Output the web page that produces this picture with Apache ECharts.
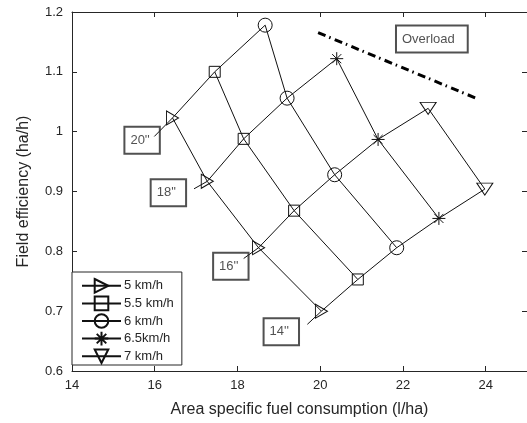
<!DOCTYPE html>
<html>
<head>
<meta charset="utf-8">
<script src="https://cdn.jsdelivr.net/npm/echarts@6/dist/echarts.min.js"></script>
<style>
html,body{margin:0;padding:0;background:#fff;}
#chart{width:527px;height:423px;}
</style>
</head>
<body>
<div id="chart"></div>
<script>
// ---- data ----
const depths = ["20''", "18''", "16''", "14''"];
const speeds = ["5 km/h", "5.5 km/h", "6 km/h", "6.5km/h", "7 km/h"];
// fuel consumption (l/ha) per speed, indexed by depth (20'',18'',16'',14'')
const fuel5  = [16.43, 17.27, 18.51, 20.03];
const fuel55 = [17.45, 18.15, 19.37, 20.91];
const fuel6  = [18.67, 19.20, 20.35, 21.85];
const fuel65 = [null, 20.40, 21.40, 22.87];
const fuel7  = [null, null, 22.61, 23.98];
// field efficiency (ha/h)
const eff5  = [1.023, 0.917, 0.806, 0.700];
const eff55 = [1.100, 0.988, 0.868, 0.753];
const eff6  = [1.178, 1.056, 0.928, 0.806];
const eff65 = [null, 1.122, 0.987, 0.855];
const eff7  = [null, null, 1.039, 0.904];
// overload boundary
const overloadFuel = [19.95, 23.80];
const overloadEff  = [1.1655, 1.055];
// annotation label anchors (data units)
const depthLabelFuel = [15.695, 16.33, 17.84, 19.06];
const depthLabelEff  = [0.9855, 0.898, 0.775, 0.6655];
const leaderFuel = [15.99, 16.95, 18.15, 19.69];
const leaderEff  = [0.992, 0.9045, 0.788, 0.678];
const overloadLabel = ['Overload'];
const overloadLabelFuel = [22.70];
const overloadLabelEff  = [1.155];
// axis ticks
const xTicks = [14, 16, 18, 20, 22, 24];
const yTicks = [0.6, 0.7, 0.8, 0.9, 1.0, 1.1, 1.2];

const fuelBySpeed = [fuel5, fuel55, fuel6, fuel65, fuel7];
const effBySpeed = [eff5, eff55, eff6, eff65, eff7];

const INK = '#262626';
const LINE = '#111';
const FONT = 'Liberation Sans, Arial, sans-serif';

const symbols = [
  'path://M0,0L10,5L0,10Z',
  'rect',
  'circle',
  'path://M5,0L5,10M0,5L10,5M1.5,1.5L8.5,8.5M1.5,8.5L8.5,1.5',
  'path://M0,0L10,0L5,8Z'
];
const symbolSizes = [[12, 14], 11, 14, 13, [16, 12]];

const series = [];
// speed lines with markers
speeds.forEach((name, s) => {
  const pts = [];
  fuelBySpeed[s].forEach((x, d) => { if (x != null) pts.push([x, effBySpeed[s][d]]); });
  series.push({
    type: 'line', name: name, data: pts,
    symbol: symbols[s], symbolSize: symbolSizes[s],
    showAllSymbol: true,
    itemStyle: { color: 'transparent', borderColor: LINE, borderWidth: 1 },
    lineStyle: { color: LINE, width: 1 },
    emphasis: { disabled: true }, silent: true, z: 4
  });
});
// depth lines (with leader to the label box)
depths.forEach((dname, d) => {
  const pts = [[leaderFuel[d], leaderEff[d]]];
  for (let s = 0; s < speeds.length; s++) {
    if (fuelBySpeed[s][d] != null) pts.push([fuelBySpeed[s][d], effBySpeed[s][d]]);
  }
  series.push({
    type: 'line', name: 'depth ' + dname, data: pts, symbol: 'none',
    lineStyle: { color: LINE, width: 1 }, emphasis: { disabled: true }, silent: true, z: 3
  });
});
// overload line
series.push({
  type: 'line', name: 'overload', symbol: 'none',
  data: overloadFuel.map((x, i) => [x, overloadEff[i]]),
  lineStyle: { color: '#000', width: 3, type: [8, 4, 1.5, 4.5] },
  emphasis: { disabled: true }, silent: true, z: 3
});
// depth label boxes
const boxLabel = {
  show: true, position: 'inside', color: INK, fontFamily: FONT, fontSize: 13,
  borderColor: INK, borderWidth: 1, backgroundColor: 'transparent',
  padding: [7, 10, 7, 6], lineHeight: 13,
  formatter: p => p.name
};
series.push({
  type: 'scatter', name: 'depthLabels', symbolSize: 0,
  data: depths.map((t, i) => ({ name: t, value: [depthLabelFuel[i], depthLabelEff[i]] })),
  label: boxLabel, emphasis: { disabled: true }, silent: true, z: 5
});
series.push({
  type: 'scatter', name: 'overloadLabel', symbolSize: 0,
  data: overloadLabel.map((t, i) => ({ name: t, value: [overloadLabelFuel[i], overloadLabelEff[i]] })),
  label: Object.assign({}, boxLabel, { padding: [7, 13, 7, 6] }),
  emphasis: { disabled: true }, silent: true, z: 5
});

const axisCommon = {
  axisLine: { show: true, lineStyle: { color: INK, width: 1 } },
  axisTick: { show: true, inside: true, length: 5, lineStyle: { color: INK } },
  splitLine: { show: false }
};

const option = {
  animation: false,
  backgroundColor: '#fff',
  textStyle: { fontFamily: FONT },
  grid: { left: 72, top: 12, right: -4, bottom: 51, containLabel: false },
  legend: {
    data: speeds, orient: 'vertical', left: 72, top: 272,
    itemWidth: 39, itemHeight: 17, itemGap: 2,
    padding: [6, 8, 1, 9],
    backgroundColor: '#fff', borderColor: INK, borderWidth: 1, borderRadius: 0,
    textStyle: { color: INK, fontSize: 13, fontFamily: FONT, padding: [0, 0, 0, -2] },
    selectedMode: false
  },
  xAxis: [
    Object.assign({}, axisCommon, {
      type: 'value', position: 'bottom', min: xTicks[0], max: 25, interval: 2,
      name: 'Area specific fuel consumption (l/ha)', nameLocation: 'middle', nameGap: 31,
      nameTextStyle: { color: INK, fontSize: 16, fontFamily: FONT },
      axisLabel: { color: INK, fontSize: 13, fontFamily: FONT, margin: 8, showMaxLabel: false }
    }),
    Object.assign({}, axisCommon, {
      type: 'value', position: 'top', min: xTicks[0], max: 25, interval: 2,
      axisLabel: { show: false }
    })
  ],
  yAxis: [
    Object.assign({}, axisCommon, {
      type: 'value', position: 'left', min: yTicks[0], max: yTicks[yTicks.length - 1], interval: 0.1,
      name: 'Field efficiency (ha/h)', nameLocation: 'middle', nameGap: 40,
      nameTextStyle: { color: INK, fontSize: 16, fontFamily: FONT },
      axisLabel: { color: INK, fontSize: 13, fontFamily: FONT, margin: 9,
        formatter: v => String(Math.round(v * 10) / 10) }
    }),
    Object.assign({}, axisCommon, {
      type: 'value', position: 'right', min: yTicks[0], max: yTicks[yTicks.length - 1], interval: 0.1,
      axisLabel: { show: false }
    })
  ],
  series: series
};

const chart = echarts.init(document.getElementById('chart'), null, { renderer: 'canvas' });
chart.setOption(option);
</script>
</body>
</html>
